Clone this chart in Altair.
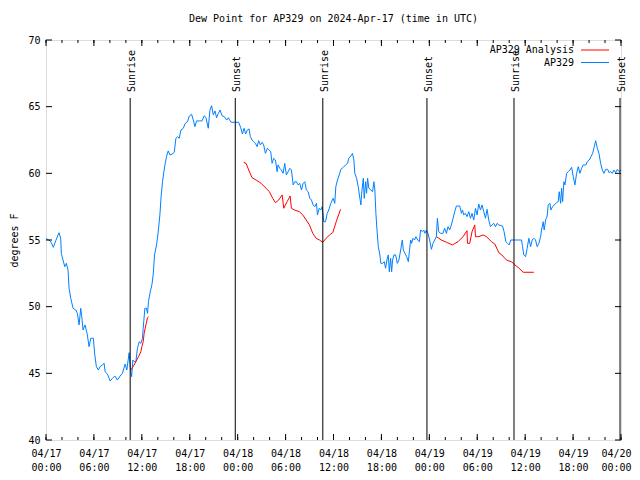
import altair as alt
import pandas as pd

FONT = "DejaVu Sans Mono"
TITLE = "Dew Point for AP329 on 2024-Apr-17 (time in UTC)"
SERIES = ["AP329 Analysis", "AP329"]
COLORS = ["#ff0000", "#0080ff"]

# AP329 observations: (hours since 2024-04-17 00:00 UTC, dew point F)
station_day1 = [
    (0, 55.1), (0.5, 54.95), (0.66, 54.8), (0.92, 54.45), (1.22, 54.95), (1.63, 55.55),
    (1.84, 55.13), (1.92, 54.0), (2.13, 53.5), (2.35, 53.0), (2.55, 53.25), (2.76, 52.75),
    (2.89, 51.38), (3.1, 50.63), (3.39, 49.88), (3.73, 49.75), (3.93, 49.5), (4.14, 48.63),
    (4.35, 49.88), (4.48, 49.25), (4.64, 48.25), (4.89, 48.63), (5.18, 47.88), (5.39, 47.0),
    (5.61, 47.63), (5.93, 47.63), (6.11, 46.38), (6.31, 45.5), (6.56, 45.25), (6.77, 45.5),
    (7.06, 45.63), (7.28, 45.75), (7.4, 45.12), (7.69, 44.95), (8.03, 44.43), (8.32, 44.63),
    (8.62, 44.8), (8.94, 44.5), (9.28, 44.8), (9.57, 45.0), (9.91, 45.7), (10.12, 45.25),
    (10.41, 46.55), (10.54, 45.5), (10.72, 44.75), (10.88, 46.0), (11.04, 45.87), (11.25, 45.87),
    (11.45, 46.88), (11.67, 47.37), (11.88, 47.25), (12.08, 47.63), (12.17, 48.38), (12.38, 49.88),
    (12.58, 49.88), (12.71, 49.5), (12.83, 50.37), (13.05, 51.12), (13.26, 51.63), (13.42, 52.38),
    (13.59, 53.88), (13.84, 54.63), (14.01, 55.38), (14.26, 56.88), (14.43, 58.38), (14.59, 59.37),
    (14.76, 60.12), (14.93, 60.75), (15.09, 61.25), (15.3, 61.68), (15.52, 61.38), (15.77, 61.43),
    (16.06, 61.58), (16.27, 62.63), (16.47, 62.75), (16.68, 62.63), (16.9, 63.25), (17.19, 63.38),
    (17.44, 63.75), (17.72, 63.87), (17.94, 64.3), (18.23, 64.43), (18.44, 64.0), (18.65, 63.5),
    (18.85, 63.93), (19.19, 63.93), (19.53, 63.93), (19.82, 64.32), (20.03, 64.17), (20.32, 63.38),
    (20.53, 64.75), (20.74, 65.07), (20.95, 64.38), (21.16, 64.68), (21.36, 64.17), (21.58, 64.5),
    (21.79, 64.75), (22.04, 64.32), (22.33, 64.25), (22.62, 64.0), (22.83, 64.17), (23.17, 63.83),
    (23.58, 63.83),
]
station_day2 = [
    (24.12, 63.83), (24.37, 63.45), (24.59, 62.95), (24.8, 63.38), (25.0, 62.95), (25.21, 63.25),
    (25.43, 63.33), (25.59, 62.75), (25.8, 62.5), (26.0, 62.37), (26.22, 62.25), (26.43, 62.0),
    (26.63, 62.45), (26.84, 62.13), (27.06, 62.33), (27.26, 62.13), (27.47, 61.5), (27.72, 61.88),
    (27.94, 61.75), (28.14, 61.62), (28.31, 60.75), (28.51, 61.13), (28.73, 61.0), (28.94, 60.12),
    (29.06, 60.63), (29.27, 60.38), (29.48, 60.25), (29.69, 60.0), (29.89, 60.75), (30.1, 59.88),
    (30.32, 60.12), (30.52, 60.38), (30.73, 60.25), (30.95, 59.13), (31.15, 59.37), (31.36, 59.37),
    (31.57, 59.13), (31.77, 59.25), (31.99, 58.75), (32.2, 59.25), (32.4, 59.37), (32.61, 58.75),
    (32.83, 58.62), (33.03, 58.13), (33.24, 58.0), (33.45, 57.63), (33.66, 57.5), (33.87, 57.75),
    (33.99, 56.88), (34.21, 57.38), (34.41, 57.25), (34.58, 57.5), (34.78, 56.37), (35.0, 56.37),
    (35.21, 57.0), (35.41, 57.25), (35.66, 57.75), (35.96, 58.13), (36.16, 57.75), (36.29, 59.0),
    (36.5, 59.5), (36.72, 59.88), (36.92, 60.3), (37.22, 60.45), (37.51, 60.63), (37.76, 60.75),
    (37.92, 61.13), (38.17, 61.3), (38.38, 61.5), (38.55, 61.0), (38.67, 60.0), (38.89, 59.63),
    (39.1, 59.0), (39.3, 58.13), (39.43, 57.63), (39.51, 58.38), (39.73, 59.63), (39.85, 58.13),
    (40.02, 59.37), (40.14, 58.5), (40.27, 59.63), (40.43, 58.88), (40.68, 58.75), (40.89, 58.62),
    (41.06, 59.37), (41.18, 58.75), (41.31, 57.0), (41.43, 55.88), (41.61, 54.5), (41.81, 53.88),
    (41.93, 53.25), (42.15, 53.25), (42.36, 53.37), (42.52, 52.88), (42.69, 53.5), (42.86, 53.88),
    (42.99, 52.62), (43.15, 53.63), (43.28, 52.62), (43.4, 53.5), (43.57, 53.88), (43.78, 53.88),
    (43.99, 53.25), (44.19, 53.5), (44.41, 54.25), (44.62, 55.0), (44.74, 54.25), (44.95, 54.0),
    (45.16, 53.75), (45.37, 53.37), (45.5, 54.12), (45.66, 55.0), (45.79, 54.75), (45.95, 55.13),
    (46.16, 55.0), (46.32, 55.25), (46.54, 55.0), (46.75, 54.87), (46.91, 55.75), (47.13, 55.63),
    (47.29, 55.75), (47.45, 55.5), (47.63, 55.75), (47.83, 55.5),
]
station_day3 = [
    (48.04, 55.0), (48.26, 54.3), (48.46, 54.75), (48.67, 55.0), (48.88, 55.25), (49.01, 56.63),
    (49.17, 55.63), (49.42, 55.5), (49.71, 55.5), (49.92, 55.88), (50.14, 55.5), (50.34, 56.0),
    (50.55, 55.75), (50.76, 56.13), (50.97, 56.63), (51.18, 57.12), (51.39, 57.55), (51.81, 57.55),
    (52.02, 57.0), (52.15, 57.25), (52.31, 56.88), (52.52, 57.0), (52.72, 56.75), (52.94, 57.12),
    (53.15, 56.63), (53.35, 57.0), (53.56, 56.5), (53.78, 57.37), (53.98, 56.88), (54.19, 57.7),
    (54.4, 57.25), (54.6, 57.63), (54.82, 57.12), (55.03, 56.63), (55.23, 57.3), (55.44, 56.5),
    (55.66, 56.0), (55.86, 56.13), (56.07, 56.25), (56.28, 56.0), (56.48, 56.25), (56.7, 56.13),
    (57.16, 56.05), (57.36, 55.63), (57.58, 54.87), (57.79, 54.75), (57.99, 54.63), (58.2, 55.0),
    (59.55, 55.0), (59.67, 54.5), (59.83, 53.88), (60.05, 53.75), (60.25, 54.38), (60.46, 55.13),
    (60.68, 54.5), (60.88, 55.0), (61.09, 55.13), (61.3, 55.0), (61.5, 54.5), (61.72, 54.75),
    (61.93, 55.25), (62.05, 55.75), (62.26, 56.37), (62.38, 55.75), (62.56, 56.5), (62.76, 56.8),
    (62.88, 57.63), (63.1, 57.75), (63.22, 57.25), (63.43, 57.5), (63.63, 57.63), (63.93, 57.8),
    (64.14, 57.88), (64.26, 58.62), (64.44, 57.75), (64.56, 58.88), (64.69, 57.88), (64.85, 59.37),
    (64.98, 59.13), (65.19, 60.0), (65.39, 60.12), (65.6, 60.25), (65.82, 60.45), (66.02, 59.75),
    (66.23, 59.13), (66.44, 60.0), (66.65, 60.5), (66.86, 60.0), (67.07, 60.38), (67.27, 60.63),
    (67.61, 60.63), (67.77, 60.87), (68.02, 61.0), (68.24, 61.25), (68.45, 61.5), (68.65, 62.0),
    (68.83, 62.45), (69.03, 61.88), (69.24, 61.5), (69.45, 60.75), (69.66, 60.25), (69.87, 60.0),
    (70.08, 60.3), (70.33, 60.3), (70.5, 60.05), (70.71, 60.13), (70.91, 60.0), (71.12, 60.25),
    (71.33, 60.05), (71.54, 60.3), (71.75, 60.13), (72.0, 60.25),
]

# AP329 Analysis: three separate runs
analysis_run1 = [
    (10.62, 45.25), (10.91, 45.5), (11.25, 45.87), (11.58, 46.25), (11.88, 46.62), (12.0, 47.0),
    (12.17, 47.37), (12.29, 48.0), (12.51, 48.63), (12.71, 49.17), (12.83, 49.25),
]
analysis_run2 = [
    (24.75, 60.83), (25.05, 60.75), (25.38, 60.25), (25.8, 59.67), (26.3, 59.5), (26.93, 59.25),
    (27.56, 58.88), (27.97, 58.62), (28.39, 58.13), (28.73, 57.8), (29.14, 58.0), (29.57, 58.38),
    (29.77, 57.38), (30.19, 57.87), (30.57, 58.3), (30.73, 57.38), (31.11, 57.25), (31.74, 57.12),
    (32.15, 56.88), (32.58, 56.5), (32.99, 56.13), (33.4, 55.5), (33.83, 55.13), (34.24, 55.0),
    (34.66, 54.83), (35.09, 55.13), (35.5, 55.38), (35.91, 55.55), (36.34, 56.37), (36.88, 57.3),
]
analysis_run3 = [
    (48.88, 55.25), (49.51, 55.0), (50.14, 54.83), (50.89, 54.63), (51.59, 54.87), (52.22, 55.25),
    (52.72, 55.7), (52.77, 54.75), (53.06, 54.75), (53.35, 55.63), (53.69, 56.13), (53.78, 55.25),
    (54.19, 55.25), (54.73, 55.38), (55.16, 55.25), (55.78, 54.87), (56.2, 54.7), (56.7, 54.05),
    (57.07, 53.88), (57.66, 53.5), (58.33, 53.35), (58.71, 53.13), (59.21, 52.9), (59.75, 52.58),
    (61.09, 52.58),
]

event_hours = [10.54, 23.7, 34.66, 47.7, 58.6, 71.88]
event_labels = ["Sunrise", "Sunset", "Sunrise", "Sunset", "Sunrise", "Sunset"]

major_x_ticks = list(range(0, 73, 6))
minor_x_ticks = list(range(0, 73, 2))
y_ticks = [40, 45, 50, 55, 60, 65, 70]

# ---- build tables ----
rows = []
for pts in (station_day1, station_day2, station_day3):
    for h, v in pts:
        rows.append({"hour": h, "dewpoint": v, "series": "AP329", "seg": "obs"})
for i, pts in enumerate((analysis_run1, analysis_run2, analysis_run3)):
    for h, v in pts:
        rows.append({"hour": h, "dewpoint": v, "series": "AP329 Analysis", "seg": f"an{i}"})
df = pd.DataFrame(rows)

events = pd.DataFrame({"hour": event_hours, "label": event_labels})
xt_major = pd.DataFrame({"hour": major_x_ticks})
xt_minor = pd.DataFrame({"hour": minor_x_ticks})
yt = pd.DataFrame({"dewpoint": y_ticks})

W, H = 575, 400
x_scale = alt.Scale(domain=[0, 72], nice=False, zero=False)
y_scale = alt.Scale(domain=[40, 70], nice=False, zero=False)

label_expr = (
    "[utcFormat(utc(2024,3,17) + datum.value*3600000, '%m/%d'), "
    "utcFormat(utc(2024,3,17) + datum.value*3600000, '%H:%M')]"
)

x_main = alt.X(
    "hour:Q", scale=x_scale,
    axis=alt.Axis(values=major_x_ticks, labelExpr=label_expr, ticks=False, domain=False,
                  grid=False, title=None, labelFont=FONT, labelFontSize=10,
                  labelColor="black", labelPadding=8, labelLineHeight=14,
                  labelAngle=0, labelOverlap=False, labelFlush=False,
                  labelOffset={"condition": {"test": "datum.value >= 72", "value": -5},
                               "value": 0}),
)
y_main = alt.Y(
    "dewpoint:Q", scale=y_scale,
    axis=alt.Axis(values=y_ticks, ticks=False, domain=False, grid=False,
                  title="degrees F", titleFont=FONT, titleFontSize=10,
                  titleFontWeight="normal", titleColor="black", titlePadding=8,
                  labelFont=FONT, labelFontSize=10, labelColor="black",
                  labelPadding=6, labelFlush=False),
)
x_plain = alt.X("hour:Q", scale=x_scale, axis=None)
y_plain = alt.Y("dewpoint:Q", scale=y_scale, axis=None)

lines = alt.Chart(df).mark_line(strokeWidth=1).encode(
    x=x_main, y=y_main,
    color=alt.Color("series:N", scale=alt.Scale(domain=SERIES, range=COLORS), legend=None),
    detail="seg:N",
    order="hour:Q",
)

event_rules = alt.Chart(events).mark_rule(color="black", strokeWidth=1).encode(
    x=x_plain, y=alt.value(58), y2=alt.value(H)
)
event_text = alt.Chart(events).mark_text(
    angle=270, align="left", baseline="middle", font=FONT, fontSize=10, color="black", dy=2
).encode(x=x_plain, y=alt.value(52), text="label:N")

tick_layers = []
for tdf, ln in ((xt_major, 6), (xt_minor, 3)):
    tick_layers.append(alt.Chart(tdf).mark_rule(color="black", strokeWidth=1).encode(
        x=x_plain, y=alt.value(H), y2=alt.value(H - ln)))
    tick_layers.append(alt.Chart(tdf).mark_rule(color="black", strokeWidth=1).encode(
        x=x_plain, y=alt.value(0), y2=alt.value(ln)))
tick_layers.append(alt.Chart(yt).mark_rule(color="black", strokeWidth=1).encode(
    y=y_plain, x=alt.value(0), x2=alt.value(6)))
tick_layers.append(alt.Chart(yt).mark_rule(color="black", strokeWidth=1).encode(
    y=y_plain, x=alt.value(W - 6), x2=alt.value(W)))

legend_layers = []
for i, (name, col) in enumerate(zip(SERIES, COLORS)):
    ypos = 10 + 12.5 * i
    ldf = pd.DataFrame({"series": [name]})
    legend_layers.append(alt.Chart(ldf).mark_text(
        align="right", baseline="middle", font=FONT, fontSize=10, color="black"
    ).encode(text="series:N", x=alt.value(528), y=alt.value(ypos)))
    legend_layers.append(alt.Chart(ldf).mark_rule(color=col, strokeWidth=1).encode(
        x=alt.value(535), x2=alt.value(563), y=alt.value(ypos)))

chart = alt.layer(
    lines, event_rules, event_text, *tick_layers, *legend_layers
).resolve_axis(
    x="independent", y="independent"
).properties(
    width=W, height=H,
    title=alt.TitleParams(TITLE, font=FONT, fontSize=10, fontWeight="normal",
                          color="black", anchor="middle", offset=11),
    autosize=alt.AutoSizeParams(type="none"),
    padding={"left": 38, "top": 32, "right": 11, "bottom": 32},
).configure_view(
    stroke="black", strokeWidth=1
).configure(background="white")

chart.save("out.html", embed_options={"renderer": "svg", "actions": False})
